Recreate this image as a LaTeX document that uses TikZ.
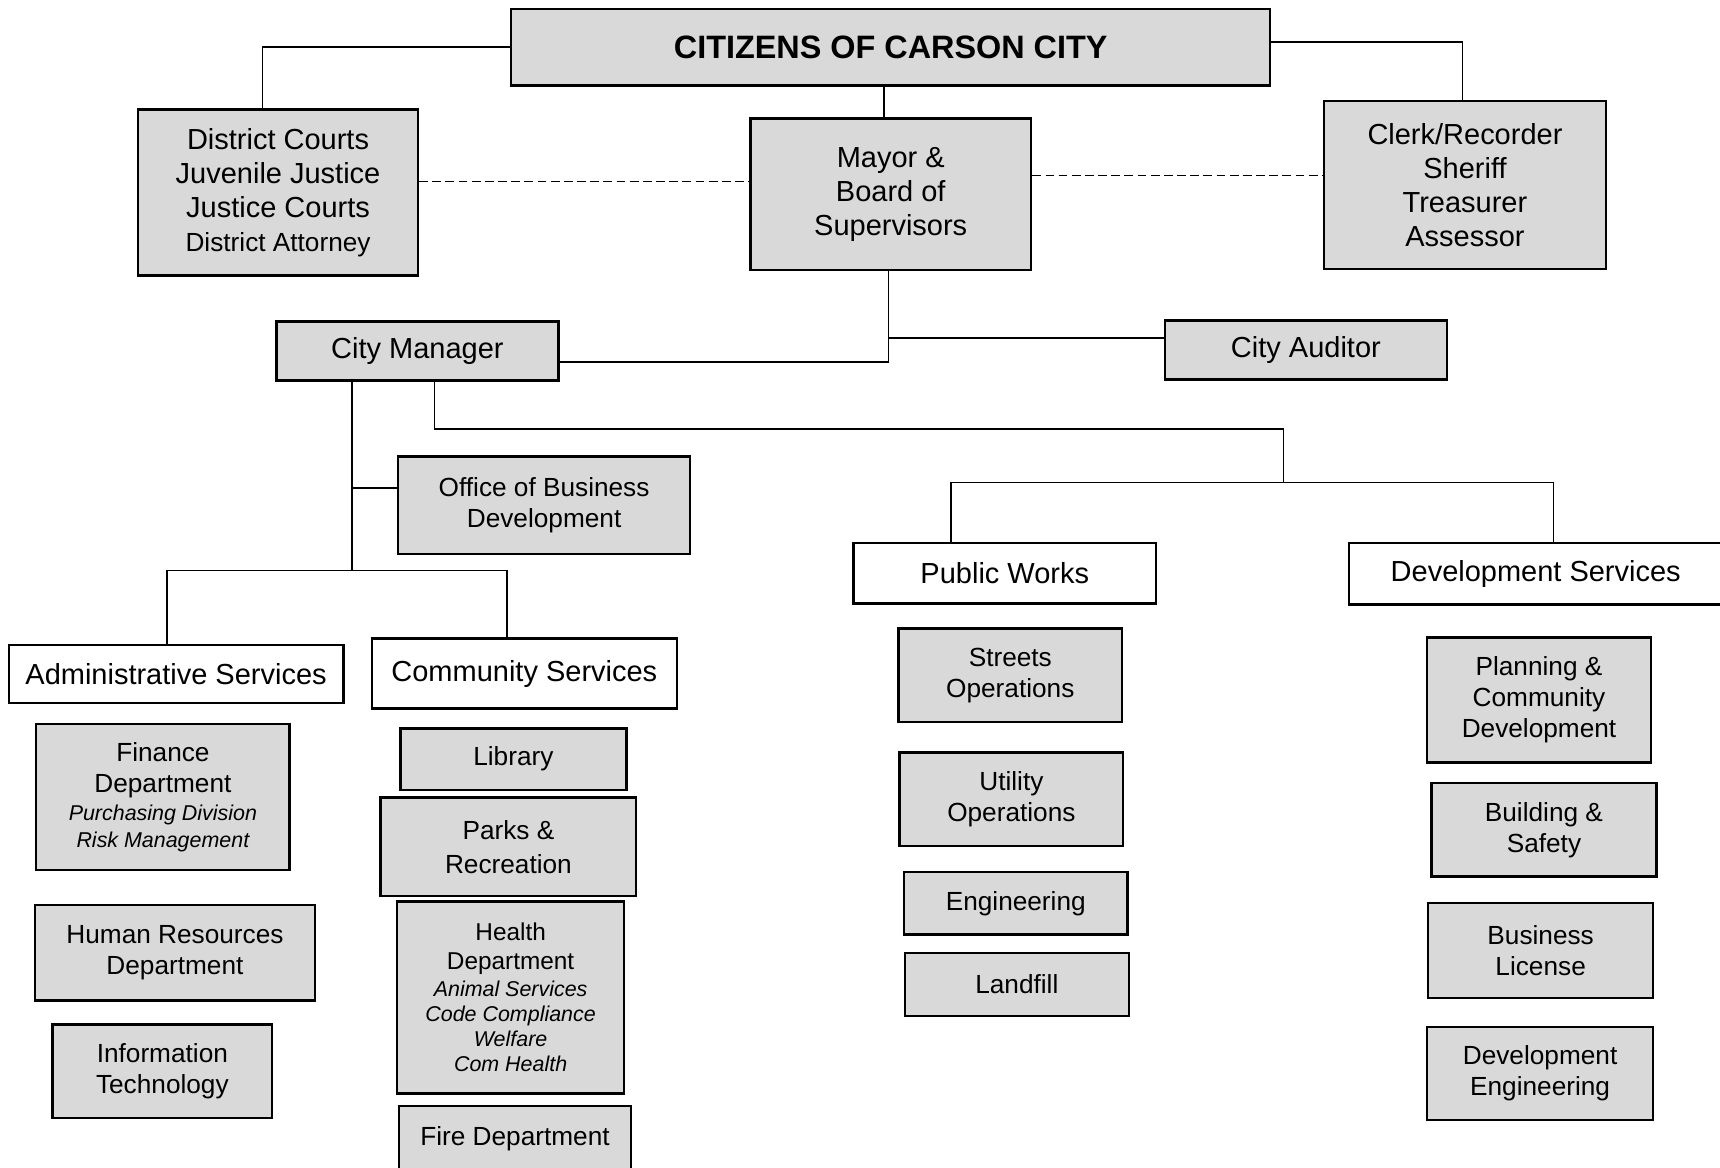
\documentclass[tikz,border=0pt]{standalone}
\usepackage{fontspec}
\setmainfont{Liberation Sans}
\usetikzlibrary{calc}

\newcommand{\fbig}{\fontsize{18.8}{22}\selectfont}
\newcommand{\fmid}{\fontsize{17}{20}\selectfont}
\newcommand{\fsub}{\fontsize{13.9}{16.8}\selectfont\itshape}

\begin{document}
\begin{tikzpicture}[x=.25mm,y=-.25mm,
  box/.style={draw,line width=.55mm,fill=black!15,align=center,inner sep=0pt,font=\fbig},
  wbox/.style={box,fill=white},
  sbox/.style={box,font=\fmid},
  sz/.style 2 args={minimum width=#1*.25mm,minimum height=#2*.25mm},
  conn/.style={line width=.35mm},
  dline/.style={conn,dash pattern=on 2mm off 1mm}]
\useasboundingbox (0,0) rectangle (1568,1064);

\node[box,sz={692}{70},font=\fontsize{21}{25}\selectfont\bfseries] (citizens) at (812,43) {CITIZENS OF CARSON CITY};
\node[box,sz={255}{151}] (courts) at (253.5,175.5) {District Courts\\Juvenile Justice\\Justice Courts\\\fmid District Attorney};
\node[box,sz={256}{138}] (mayor) at (812,177) {Mayor \&\\Board of\\Supervisors};
\node[box,sz={257}{153}] (clerk) at (1335.5,168.5) {Clerk/Recorder\\Sheriff\\Treasurer\\Assessor};
\node[box,sz={257}{54}] (manager) at (380.5,320) {City Manager};
\node[box,sz={257}{54}] (auditor) at (1190.5,319) {City Auditor};
\node[sbox,sz={266}{89}] (office) at (496,460.5) {Office of Business\\Development};

\node[wbox,sz={305}{53}] (admin) at (160.5,614.5) {Administrative Services};
\node[wbox,sz={278}{64}] (community) at (478,614) {Community Services};
\node[wbox,sz={276}{55}] (works) at (916,522.5) {Public Works};
\node[wbox,sz={340}{56}] (devserv) at (1400,523) {Development Services};

\node[sbox,sz={231}{133},font=\fontsize{17}{17}\selectfont] (finance) at (148.5,726.5) {Finance\\[3pt]Department\\[1.5pt]\fsub Purchasing Division\\\fsub Risk Management};
\node[sbox,sz={255}{87}] (hr) at (159.5,868.5) {Human Resources\\Department};
\node[sbox,sz={200}{85}] (infotech) at (148,976.5) {Information\\Technology};

\node[sbox,sz={206}{56}] (library) at (468,692) {Library};
\node[sbox,sz={233}{90}] (parks) at (463.5,772) {Parks \&\\[2pt]Recreation};
\node[sbox,sz={207}{175},font=\fontsize{15.8}{16.4}\selectfont] (health) at (465.5,909.5) {Health\\[2pt]Department\\[1pt]\fsub Animal Services\\\fsub Code Compliance\\\fsub Welfare\\\fsub Com Health};
\node[sbox,sz={211}{60}] (fire) at (469.5,1038) {Fire Department};

\node[sbox,sz={204}{85}] (streets) at (921,615.5) {Streets\\Operations};
\node[sbox,sz={204}{85}] (utility) at (922,728.5) {Utility\\Operations};
\node[sbox,sz={204}{57}] (engineering) at (926,823.5) {Engineering};
\node[sbox,sz={204}{57}] (landfill) at (927,897.5) {Landfill};

\node[sbox,sz={204}{114}] (planning) at (1403,638) {Planning \&\\Community\\Development};
\node[sbox,sz={205}{85}] (building) at (1407.5,756.5) {Building \&\\Safety};
\node[sbox,sz={205}{87}] (license) at (1404.5,866.5) {Business\\License};
\node[sbox,sz={206}{85}] (deveng) at (1404,978.5) {Development\\Engineering};

\draw[conn] (citizens.west) -| ([xshift=-3.6mm]courts.north);
\draw[conn] ([yshift=1.2mm]citizens.east) -| ([xshift=-.6mm]clerk.north);
\draw[conn] ([xshift=-1.5mm]citizens.south) -- ([xshift=-1.5mm]mayor.north);
\coordinate (d1) at ($(courts.east)+(0,-10)$);
\draw[dline] (d1) -- (d1 -| mayor.west);
\coordinate (d2) at ($(mayor.east)+(0,-17)$);
\draw[dline] (d2) -- (d2 -| clerk.west);

\coordinate (j1) at ($(mayor.south)+(-2,0)$);
\draw[conn] (j1) |- ($(manager.east)+(0,10)$);
\coordinate (j2) at ($(j1 |- auditor.west)+(0,-11)$);
\draw[conn] (j2) -- (j2 -| auditor.west);

\coordinate (a1) at (321,520);
\coordinate (a2) at (152,520);
\coordinate (a3) at (462,520);
\coordinate (o1) at (321,445);
\draw[conn] (manager.south -| a1) -- (a1);
\draw[conn] (o1) -- (o1 -| office.west);
\draw[conn] (a2 |- admin.north) -- (a2) -- (a3) -- (a3 |- community.north);

\coordinate (b1) at (396,391);
\coordinate (b2) at (1170,440);
\coordinate (b3) at (867,440);
\coordinate (b4) at (1416,440);
\draw[conn] (manager.south -| b1) -- (b1) -| (b2);
\draw[conn] (b3 |- works.north) -- (b3) -- (b4) -- (b4 |- devserv.north);
\end{tikzpicture}
\end{document}
